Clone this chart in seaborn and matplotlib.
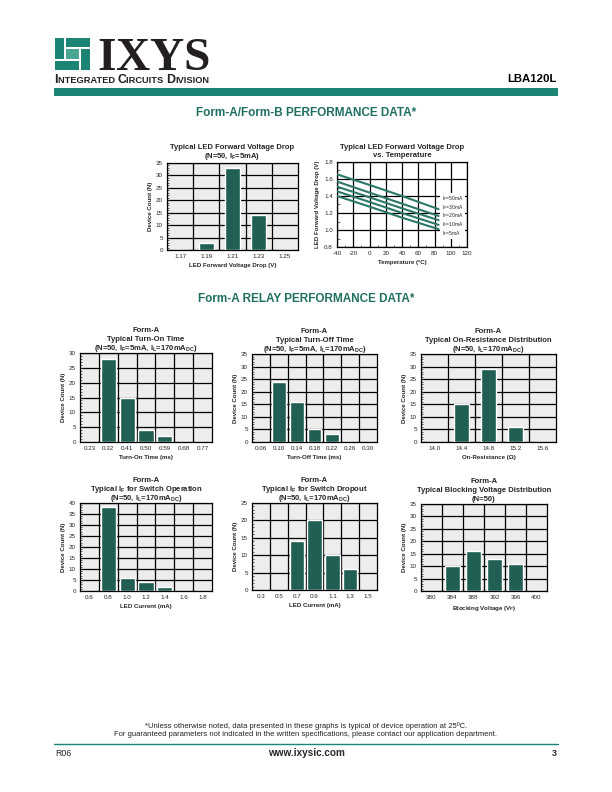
import numpy as np
import pandas as pd
import matplotlib
matplotlib.use('Agg')
import matplotlib.pyplot as plt
import seaborn as sns
from matplotlib import font_manager
from matplotlib.patches import Rectangle
from matplotlib.ticker import MultipleLocator, FixedLocator
from matplotlib.offsetbox import TextArea, HPacker, AnnotationBbox
from matplotlib.transforms import offset_copy

W, H = 612, 792

# LED forward voltage histogram
vf_bins = ['1.17', '1.19', '1.21', '1.23', '1.25']
vf_count = [0, 3, 33, 14, 0]

# LED forward voltage vs temperature (one list per LED current)
temp_c = [-40, 0, 40, 85]
vf_if50 = [1.655, 1.53, 1.40, 1.245]
vf_if30 = [1.57, 1.44, 1.31, 1.165]
vf_if20 = [1.51, 1.385, 1.255, 1.115]
vf_if10 = [1.455, 1.33, 1.20, 1.06]
vf_if5 = [1.40, 1.275, 1.145, 1.01]
if_labels = ['50mA', '30mA', '20mA', '10mA', '5mA']

# Form-A relay histograms
ton_bins = ['0.23', '0.32', '0.41', '0.50', '0.59', '0.68', '0.77']
ton_count = [0, 28, 15, 4, 2, 0, 0]
toff_bins = ['0.06', '0.10', '0.14', '0.18', '0.22', '0.26', '0.30']
toff_count = [0, 24, 16, 5, 3, 0, 0]
ron_bins = ['14.0', '14.4', '14.8', '15.2', '15.6']
ron_count = [0, 15, 29, 6, 0]
ifop_bins = ['0.6', '0.8', '1.0', '1.2', '1.4', '1.6', '1.8']
ifop_count = [0, 38, 6, 4, 2, 0, 0]
ifdo_bins = ['0.3', '0.5', '0.7', '0.9', '1.1', '1.3', '1.5']
ifdo_count = [0, 0, 14, 20, 10, 6, 0]
vb_bins = ['380', '384', '388', '392', '396', '400']
vb_count = [0, 10, 16, 13, 11, 0]

TEAL = '#1c8474'
HEAD = '#1f6f61'
BAR = '#215e53'
PANEL = '#ededed'

sns.set_theme(style='ticks')
have_narrow = any(f.name == 'Liberation Sans Narrow' for f in font_manager.fontManager.ttflist)
if have_narrow:
    CHART_FONT = ['Liberation Sans Narrow', 'Liberation Sans', 'DejaVu Sans']
    k = 1.0
else:
    CHART_FONT = ['Liberation Sans', 'DejaVu Sans']
    k = 0.85
PAGE_FONT = ['Liberation Sans', 'DejaVu Sans']
plt.rcParams['font.family'] = CHART_FONT
plt.rcParams['axes.linewidth'] = 0.9
plt.rcParams['axes.unicode_minus'] = False

TICK_FS = 5.3 * k
LABEL_FS = 5.2 * k
TITLE_FS = 6.5 * k

fig = plt.figure(figsize=(W / 100, H / 100), dpi=100)

# page layer in pixel coordinates (y down)
page = fig.add_axes([0, 0, 1, 1])
page.set_xlim(0, W)
page.set_ylim(H, 0)
page.axis('off')


def px_axes(left, top, right, bottom):
    return fig.add_axes([left / W, 1 - bottom / H, (right - left) / W, (bottom - top) / H])


def stacked_title(ax, lines, gap=3, step=9):
    # one text per line so mathtext subscripts don't change the line spacing
    n = len(lines)
    for i, line in enumerate(lines):
        tr = offset_copy(ax.transAxes, fig=fig, x=0, y=gap + (n - 1 - i) * step, units='dots')
        ax.text(0.5, 1.0, line, transform=tr, ha='center', va='baseline',
                fontsize=TITLE_FS, fontweight='bold')


def style_frame(ax):
    for s in ax.spines.values():
        s.set_visible(True)
        s.set_color('black')
        s.set_linewidth(0.9)


def hist_panel(box, bins, counts, ymax, bar_w, title, xlabel, gap=3):
    ax = px_axes(*box)
    ax.set_facecolor(PANEL)
    sns.barplot(x=bins, y=counts, color=BAR, saturation=1, width=bar_w, ax=ax, zorder=3)
    n = len(bins)
    ax.set_xlim(-0.5, n - 0.5)
    ax.set_ylim(0, ymax)
    ax.yaxis.set_major_locator(MultipleLocator(5))
    ax.yaxis.set_minor_locator(MultipleLocator(1))
    ax.xaxis.set_minor_locator(FixedLocator(np.arange(0.5, n - 1, 1)))
    ax.grid(which='major', axis='y', color='black', lw=0.9)
    ax.grid(which='minor', axis='x', color='black', lw=0.9)
    ax.set_axisbelow(True)
    ax.tick_params(axis='x', which='both', length=0, labelsize=TICK_FS, pad=3)
    ax.tick_params(axis='y', which='major', direction='in', length=2.5, width=0.6,
                   labelsize=TICK_FS, pad=3)
    ax.tick_params(axis='y', which='minor', direction='in', length=1.6, width=0.5)
    style_frame(ax)
    ax.set_xlabel(xlabel, fontsize=LABEL_FS, fontweight='bold', labelpad=3)
    ax.set_ylabel('Device Count (N)', fontsize=LABEL_FS, fontweight='bold', labelpad=2)
    stacked_title(ax, title, gap=gap)
    return ax


IF = 'I$_\\mathregular{F}$'
IL = 'I$_\\mathregular{L}$'
DC = '170mA$_\\mathregular{DC}$'

# ---- top section ----
hist_panel((167, 163, 298, 250), vf_bins, vf_count, 35, 0.57,
           ['Typical LED Forward Voltage Drop', f'(N=50, {IF}=5mA)'],
           'LED Forward Voltage Drop (V)', gap=5)

ax = px_axes(337, 162, 467, 247)
curves = [vf_if50, vf_if30, vf_if20, vf_if10, vf_if5]
df = pd.DataFrame({
    'temp': temp_c * len(curves),
    'vf': [v for c in curves for v in c],
    'curve': [lab for lab in if_labels for _ in temp_c],
})
sns.lineplot(data=df, x='temp', y='vf', units='curve', estimator=None,
             color='#2b7868', lw=1.5, ax=ax, zorder=3)
ax.set_xlim(-40, 120)
ax.set_ylim(0.8, 1.8)
ax.xaxis.set_major_locator(MultipleLocator(20))
ax.xaxis.set_minor_locator(MultipleLocator(10))
ax.yaxis.set_major_locator(MultipleLocator(0.2))
ax.yaxis.set_minor_locator(MultipleLocator(0.1))
ax.grid(which='major', color='black', lw=0.9)
ax.set_axisbelow(True)
ax.set_facecolor('white')
ax.tick_params(which='major', direction='in', length=0, labelsize=TICK_FS, pad=3)
ax.tick_params(which='minor', direction='in', length=1.8, width=0.5)
style_frame(ax)
ax.set_xlabel('Temperature (ºC)', fontsize=LABEL_FS, fontweight='bold', labelpad=3)
ax.set_ylabel('LED Forward Voltage Drop (V)', fontsize=LABEL_FS, fontweight='bold', labelpad=3)
stacked_title(ax, ['Typical LED Forward Voltage Drop', 'vs. Temperature'], gap=5, step=8)
ax.text(89, 1.165, '\n'.join(IF + '=' + lab for lab in if_labels),
        fontsize=4.3 * k, va='center', ha='left', linespacing=0.95, zorder=4,
        bbox=dict(facecolor='white', edgecolor='none', pad=1.2))

# ---- Form-A relay section ----
hist_panel((80, 353, 212, 442), ton_bins, ton_count, 30, 0.8,
           ['Form-A', 'Typical Turn-On Time', f'(N=50, {IF}=5mA, {IL}={DC})'],
           'Turn-On Time (ms)')
hist_panel((252, 354, 377, 442), toff_bins, toff_count, 35, 0.78,
           ['Form-A', 'Typical Turn-Off Time', f'(N=50, {IF}=5mA, {IL}={DC})'],
           'Turn-Off Time (ms)')
hist_panel((421, 354, 556, 442), ron_bins, ron_count, 35, 0.57,
           ['Form-A', 'Typical On-Resistance Distribution', f'(N=50, {IL}={DC})'],
           'On-Resistance (Ω)')
hist_panel((80, 503, 212, 591), ifop_bins, ifop_count, 40, 0.8,
           ['Form-A', f'Typical {IF} for Switch Operation', f'(N=50, {IL}={DC})'],
           'LED Current (mA)')
hist_panel((252, 503, 377, 590), ifdo_bins, ifdo_count, 25, 0.8,
           ['Form-A', f'Typical {IF} for Switch Dropout', f'(N=50, {IL}={DC})'],
           'LED Current (mA)')
hist_panel((421, 504, 547, 591), vb_bins, vb_count, 35, 0.7,
           ['Form-A', 'Typical Blocking Voltage Distribution', '(N=50)'],
           'Blocking Voltage (V$_\\mathregular{P}$)')

# ---- page furniture ----
# logo pinwheel
lx, ly, sx, sy, w, g = 54, 37, 37, 34, 11, 1.4
for (x, y, ww, hh) in [(0, 0, w, sy - w), (0, sy - w, sx - w, w), (sx - w, w, w, sy - w),
                       (w, 0, sx - w, w)]:
    page.add_patch(Rectangle((lx + x + g / 2, ly + y + g / 2), ww - g, hh - g,
                             facecolor=TEAL, edgecolor='none'))
page.add_patch(Rectangle((lx + w + g / 2, ly + w + g / 2), sx - 2 * w - g, sy - 2 * w - g,
                         facecolor='#4aa595', edgecolor='none'))
# mathtext keeps the box tight to the glyphs (no font descent below the baseline)
page.text(97, 70.5, '$\\mathregular{IXYS}$', family=['Liberation Serif', 'DejaVu Serif'],
          fontweight='bold', fontsize=34, color='#231f20', va='baseline', ha='left')

pieces = [('I', 8.9), ('NTEGRATED ', 6.7), ('C', 8.9), ('IRCUITS ', 6.7), ('D', 8.9), ('IVISION', 6.7)]
areas = [TextArea(t, textprops=dict(fontsize=fs, fontweight='bold', family=PAGE_FONT,
                                    color='#231f20')) for t, fs in pieces]
pack = HPacker(children=areas, align='baseline', pad=0, sep=0)
page.add_artist(AnnotationBbox(pack, (54, 84), xycoords='data', box_alignment=(0, 0.15),
                               frameon=False, pad=0))

page.text(557, 82, 'LBA120L', family=PAGE_FONT, fontweight='bold', fontsize=8.2,
          ha='right', va='baseline', color='black')
page.add_patch(Rectangle((54, 88), 504, 8, facecolor=TEAL, edgecolor='none'))

page.text(306, 113, 'Form-A/Form-B PERFORMANCE DATA*', family=PAGE_FONT, fontweight='bold',
          fontsize=8.5, color=HEAD, ha='center', va='center')
page.text(306, 299, 'Form-A RELAY PERFORMANCE DATA*', family=PAGE_FONT, fontweight='bold',
          fontsize=8.5, color=HEAD, ha='center', va='center')

page.text(306, 726, '*Unless otherwise noted, data presented in these graphs is typical of device operation at 25ºC.',
          family=PAGE_FONT, fontsize=5.5, ha='center', va='center', color='#222222')
page.text(306, 735, 'For guaranteed parameters not indicated in the written specifications, please contact our application department.',
          family=PAGE_FONT, fontsize=5.5, ha='center', va='center', color='#222222')
page.plot([54, 558], [744, 744], color=TEAL, lw=1.0)
page.text(55, 753, 'R06', family=PAGE_FONT, fontsize=6.3, ha='left', va='center')
page.text(306, 753, 'www.ixysic.com', family=PAGE_FONT, fontweight='bold', fontsize=7.2,
          ha='center', va='center')
page.text(557, 753, '3', family=PAGE_FONT, fontweight='bold', fontsize=6.5, ha='right', va='center')

fig.savefig('out.png', dpi=100)
